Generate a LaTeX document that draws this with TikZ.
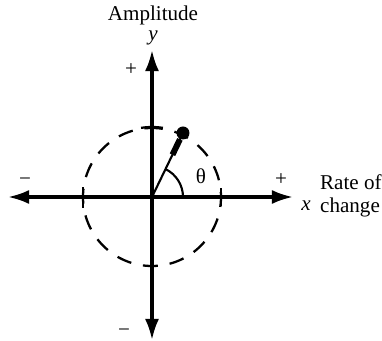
\documentclass[tikz,border=0pt]{standalone}
\usepackage{fontspec}
\setmainfont{Liberation Serif}
\usepackage{tikz}
\usetikzlibrary{arrows.meta,positioning,calc}
\tikzset{
  axisarrow/.style={
    -{Latex[length=12pt,width=8pt]}, line width=1.8pt, black
  },
  circdash/.style={
    line width=1.3pt, dash pattern=on 8.5pt off 6.8pt, dash phase=4.2pt
  },
  tickmark/.style={line width=1.3pt},
  vecline/.style={line width=1.2pt},
  lbl/.style={font=\fontsize{12}{13}\selectfont, inner sep=1pt},
}

\begin{document}
\begin{tikzpicture}[x=0.02cm, y=0.02cm]
  \useasboundingbox (-152,-144) rectangle (230,197);

  % axes
  \coordinate (O) at (0,0);
  \coordinate (xr) at (141,0);
  \coordinate (xl) at (-144,0);
  \coordinate (yt) at (0,147);
  \coordinate (yb) at (0,-143);
  \draw[axisarrow] (O) -- (xr);
  \draw[axisarrow] (O) -- (xl);
  \draw[axisarrow] (O) -- (yt);
  \draw[axisarrow] (O) -- (yb);

  % dashed circle with ticks
  \draw[circdash] (O) ++(90:69) arc[start angle=90, end angle=450, radius=69];
  \draw[tickmark] (69,-9) -- (69,9);
  \draw[tickmark] (-69,-11) -- (-69,10);
  \draw[tickmark] (O) ++(99:70) arc[start angle=99, end angle=81, radius=70];

  % phasor
  \coordinate (tip) at (31,64);
  \draw[vecline] (O) -- (tip);
  \draw[line width=3.4pt] ($(O)!0.66!(tip)$) -- ($(O)!0.9!(tip)$);
  \fill (tip) circle[radius=6.5];
  \draw[vecline] (31,0) arc[start angle=0, end angle=64, radius=31];
  \node[lbl] (th) at (49,21) {θ};

  % labels
  \node[lbl] (ylab) at (1,159) {\textit{y}};
  \node[lbl, above=1pt of ylab] (amp) {Amplitude};
  \node[lbl] (yplus) at (-21,127) {+};
  \node[lbl] (yminus) at (-28,-136) {−};
  \node[lbl] (xminus) at (-127,15) {−};
  \node[lbl] (xplus) at (129,17) {+};
  \node[lbl] (xlab) at (154,-9) {\textit{x}};
  \node[lbl, align=left, anchor=west, right=3pt of xlab.east, yshift=6] (rate) {Rate of\\change};
\end{tikzpicture}
\end{document}
